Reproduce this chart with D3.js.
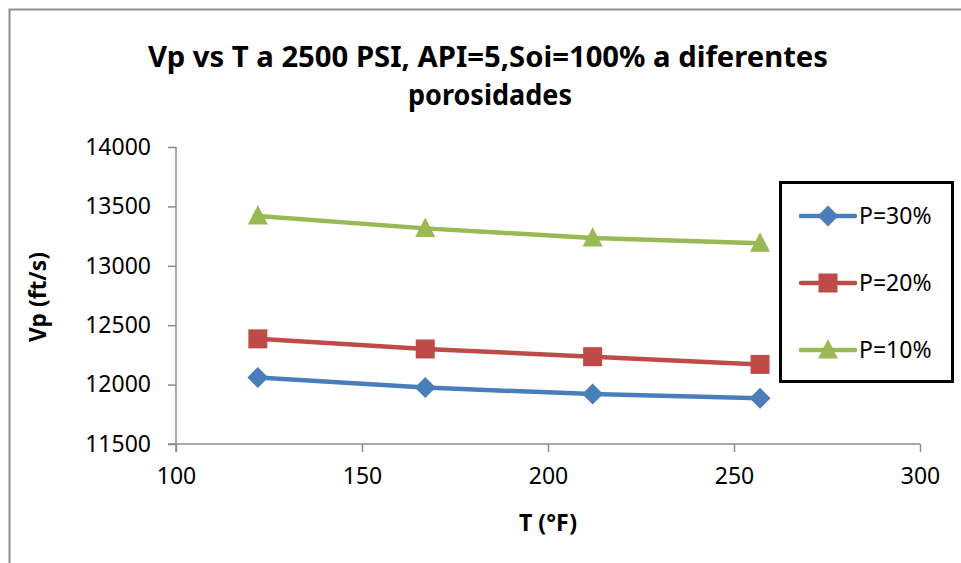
<!DOCTYPE html>
<html>
<head>
<meta charset="utf-8">
<script src="https://cdn.jsdelivr.net/npm/d3@7"></script>
<style>
  html, body { margin: 0; padding: 0; background: #fff; }
  svg { display: block; }
</style>
</head>
<body>
<svg id="chart" width="961" height="563"></svg>
<script>
// ---- data ----
const temperatures = [122, 167, 212, 257];
const seriesNames = ["P=30%", "P=20%", "P=10%"];
const vpP30 = [12060, 11975, 11920, 11885];
const vpP20 = [12385, 12300, 12235, 12170];
const vpP10 = [13420, 13315, 13235, 13190];
const xTicks = [100, 150, 200, 250, 300];
const yTicks = [11500, 12000, 12500, 13000, 13500, 14000];
const titleLines = ["Vp vs T a 2500 PSI, API=5,Soi=100% a diferentes", "porosidades"];
const xTitle = "T (°F)";
const yTitle = "Vp (ft/s)";

const series = [
  { name: seriesNames[0], values: vpP30, color: "#4a7ebb", marker: "diamond" },
  { name: seriesNames[1], values: vpP20, color: "#be4b48", marker: "square" },
  { name: seriesNames[2], values: vpP10, color: "#98b954", marker: "triangle" }
];

const svg = d3.select("#chart");
const FONT = "'Noto Sans', 'Open Sans', sans-serif";

// outer chart border
svg.append("path")
  .attr("d", "M9.5,563 L9.5,9.5 L961,9.5")
  .attr("fill", "none").attr("stroke", "#8e8e8e").attr("stroke-width", 2);

const x = d3.scaleLinear().domain([100, 300]).range([176, 920]);
const y = d3.scaleLinear().domain([11500, 14000]).range([444, 147]);

// title
const tl = svg.append("g").attr("font-family", FONT).attr("font-weight", "bold").attr("font-size", 28.5).attr("fill", "#000");
tl.append("text").attr("x", 488).attr("y", 67).attr("text-anchor", "middle")
  .attr("textLength", 680).attr("lengthAdjust", "spacingAndGlyphs").text(titleLines[0]);
tl.append("text").attr("x", 490).attr("y", 105).attr("text-anchor", "middle")
  .attr("textLength", 164).attr("lengthAdjust", "spacingAndGlyphs").text(titleLines[1]);

// axes
const axisColor = "#8c8c8c";
const xAxis = svg.append("g").attr("transform", "translate(0,444)")
  .call(d3.axisBottom(x).tickValues(xTicks).tickSize(8).tickPadding(16).tickFormat(d3.format("d")));
const yAxis = svg.append("g").attr("transform", "translate(176,0)")
  .call(d3.axisLeft(y).tickValues(yTicks).tickSize(8).tickPadding(17).tickFormat(d3.format("d")));
[xAxis, yAxis].forEach(a => {
  a.select(".domain").remove();
  a.selectAll(".tick line").attr("stroke", axisColor).attr("stroke-width", 1.5);
  a.selectAll(".tick text").attr("font-family", FONT).attr("font-size", 23).attr("fill", "#000");
});
// axis lines (extending to the outer tick ends)
svg.append("line").attr("x1", 168).attr("x2", 920).attr("y1", 444).attr("y2", 444)
  .attr("stroke", axisColor).attr("stroke-width", 1.5);
svg.append("line").attr("x1", 176).attr("x2", 176).attr("y1", 147).attr("y2", 452)
  .attr("stroke", axisColor).attr("stroke-width", 1.5);

// axis titles
svg.append("text").attr("x", 548).attr("y", 531).attr("text-anchor", "middle")
  .attr("font-family", FONT).attr("font-weight", "bold").attr("font-size", 22.5)
  .attr("textLength", 58).attr("lengthAdjust", "spacingAndGlyphs").text(xTitle);
svg.append("text").attr("transform", "translate(46,297) rotate(-90)").attr("text-anchor", "middle")
  .attr("font-family", FONT).attr("font-weight", "bold").attr("font-size", 22.5)
  .attr("textLength", 90).attr("lengthAdjust", "spacingAndGlyphs").text(yTitle);

// markers
function markerPath(type) {
  if (type === "diamond") return "M0,-10.5 L10.5,0 L0,10.5 L-10.5,0 Z";
  if (type === "square") return "M-9.5,-9.5 L9.5,-9.5 L9.5,9.5 L-9.5,9.5 Z";
  return "M0,-11 L10,8.5 L-10,8.5 Z";
}

const line = d3.line().x((d, i) => x(temperatures[i])).y(d => y(d));
const plot = svg.append("g");
series.forEach(s => {
  plot.append("path").datum(s.values).attr("d", line)
    .attr("fill", "none").attr("stroke", s.color).attr("stroke-width", 4.5)
    .attr("stroke-linejoin", "round").attr("stroke-linecap", "round");
  plot.selectAll(null).data(s.values).enter().append("path")
    .attr("d", markerPath(s.marker))
    .attr("transform", (d, i) => `translate(${x(temperatures[i])},${y(d)})`)
    .attr("fill", s.color);
});

// legend
const lg = svg.append("g");
lg.append("rect").attr("x", 780.5).attr("y", 182.5).attr("width", 172).attr("height", 199)
  .attr("fill", "#fff").attr("stroke", "#000").attr("stroke-width", 3);
const legendY = d3.scalePoint().domain(seriesNames).range([216, 350]);
series.forEach(s => {
  const ly = legendY(s.name);
  lg.append("line").attr("x1", 801).attr("x2", 855).attr("y1", ly).attr("y2", ly)
    .attr("stroke", s.color).attr("stroke-width", 4.5).attr("stroke-linecap", "round");
  lg.append("path").attr("d", markerPath(s.marker)).attr("transform", `translate(828,${ly})`).attr("fill", s.color);
  lg.append("text").attr("x", 859).attr("y", ly + 8).attr("font-family", FONT).attr("font-size", 23)
    .attr("fill", "#000").text(s.name);
});
</script>
</body>
</html>
